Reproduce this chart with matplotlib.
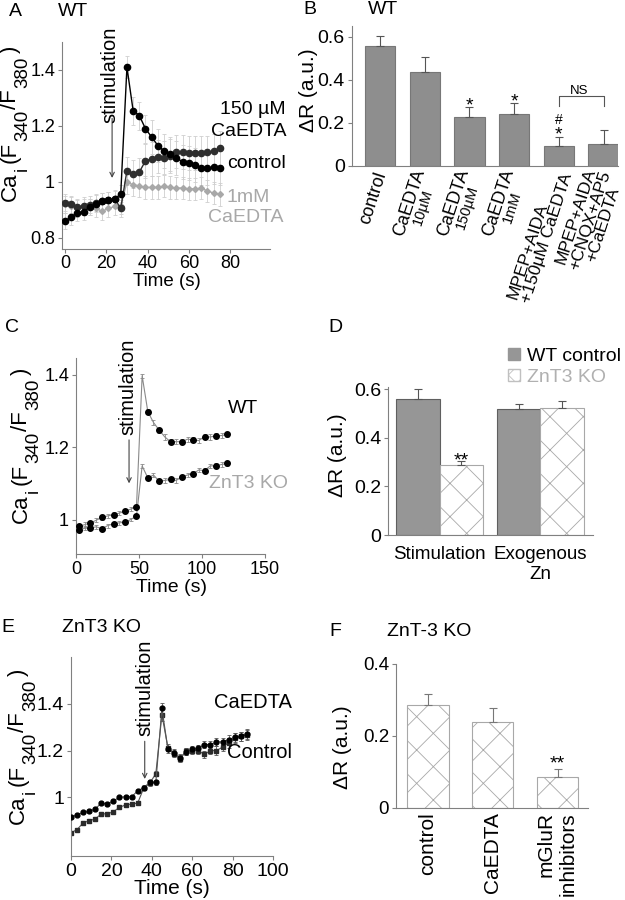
import matplotlib
matplotlib.use('Agg')
import matplotlib.pyplot as plt
import numpy as np
from matplotlib.patches import Patch
from matplotlib.ticker import FuncFormatter

plt.rcParams['font.family'] = ['Liberation Sans', 'DejaVu Sans']
plt.rcParams['hatch.linewidth'] = 0.6

# ---------------- data ----------------
# Panel A (WT, time courses)
tA = [0, 3, 6, 9, 12, 15, 18, 21, 24, 27, 30, 33, 36, 39, 42, 45, 48, 51, 54, 57, 60, 63, 66, 69, 72, 75]
A_control = [0.86, 0.875, 0.89, 0.893, 0.91, 0.922, 0.93, 0.935, 0.937, 0.958, 1.41, 1.255, 1.237, 1.19,
             1.16, 1.13, 1.11, 1.10, 1.085, 1.072, 1.068, 1.06, 1.048, 1.05, 1.052, 1.05]
A_150uM = [0.925, 0.92, 0.91, 0.915, 0.918, 0.925, 0.93, 0.935, 0.94, 0.905, 1.04, 1.028, 1.035, 1.075,
           1.082, 1.09, 1.087, 1.092, 1.108, 1.106, 1.104, 1.103, 1.104, 1.105, 1.11, 1.122]
A_1mM = [0.92, 0.915, 0.905, 0.91, 0.91, 0.905, 0.895, 0.905, 0.912, 0.915, 0.998, 0.99, 0.985, 0.98,
         0.98, 0.98, 0.985, 0.98, 0.978, 0.978, 0.975, 0.975, 0.977, 0.968, 0.96, 0.955]
A_control_err = [0.03, 0.03, 0.03, 0.03, 0.03, 0.03, 0.03, 0.03, 0.03, 0.03, 0.04, 0.05, 0.05, 0.05,
                 0.06, 0.06, 0.06, 0.06, 0.06, 0.06, 0.06, 0.06, 0.06, 0.06, 0.06, 0.06]
A_150uM_err = [0.03, 0.03, 0.03, 0.03, 0.03, 0.03, 0.03, 0.03, 0.03, 0.03, 0.05, 0.05, 0.05, 0.06,
               0.06, 0.06, 0.06, 0.06, 0.06, 0.06, 0.06, 0.06, 0.06, 0.06, 0.06, 0.06]
A_1mM_err = [0.03, 0.03, 0.03, 0.03, 0.03, 0.03, 0.03, 0.03, 0.03, 0.03, 0.04, 0.04, 0.04, 0.04,
             0.04, 0.04, 0.04, 0.04, 0.04, 0.04, 0.04, 0.04, 0.04, 0.04, 0.04, 0.04]

# Panel B (WT, bar chart)
B_labels = [["control"], ["CaEDTA", "10µM"], ["CaEDTA", "150µM"], ["CaEDTA", "1mM"],
            ["MPEP+AIDA", "+150µM CaEDTA"], ["MPEP+AIDA", "+CNQX+AP5", "+CaEDTA"]]
B_values = [0.557, 0.434, 0.228, 0.240, 0.093, 0.100]
B_errors = [0.046, 0.073, 0.044, 0.050, 0.042, 0.066]

# Panel C (WT vs ZnT3 KO time courses)
tC = [2.5, 7, 11.5, 16, 20.5, 25, 30, 34.5, 39, 43.5, 48, 52.5, 57, 61.5, 66, 70.5, 75, 79.5, 84,
      88.5, 93, 97.5, 102, 106.5, 111, 115.5, 120]
C_WT = [0.982, 0.986, 0.991, 0.998, 1.006, 1.010, 1.014, 1.018, 1.023, 1.029, 1.035, 1.397, 1.298, 1.268,
        1.247, 1.228, 1.215, 1.215, 1.215, 1.222, 1.220, 1.218, 1.229, 1.228, 1.231, 1.232, 1.235]
C_KO = [0.972, 0.976, 0.977, 0.980, 0.975, 0.983, 0.989, 0.991, 0.993, 1.000, 1.010, 1.148, 1.115, 1.123,
        1.106, 1.108, 1.111, 1.108, 1.118, 1.123, 1.127, 1.137, 1.135, 1.148, 1.149, 1.152, 1.155]
C_WT_err = [0.006, 0.006, 0.006, 0.006, 0.006, 0.006, 0.006, 0.006, 0.006, 0.006, 0.006, 0.006, 0.007, 0.007,
            0.007, 0.007, 0.007, 0.007, 0.007, 0.007, 0.007, 0.007, 0.007, 0.007, 0.007, 0.007, 0.007]
C_KO_err = [0.005, 0.005, 0.005, 0.005, 0.005, 0.005, 0.005, 0.005, 0.005, 0.005, 0.005, 0.006, 0.006, 0.006,
            0.006, 0.006, 0.006, 0.006, 0.006, 0.006, 0.006, 0.006, 0.006, 0.006, 0.006, 0.006, 0.006]

# Panel D (grouped bars)
D_groups = ["Stimulation", "Exogenous\nZn"]
D_series = ["WT control", "ZnT3 KO"]
D_WT = [0.561, 0.520]
D_KO = [0.290, 0.524]
D_WT_err = [0.042, 0.021]
D_KO_err = [0.014, 0.027]

# Panel E (ZnT3 KO time courses)
tE = [0, 3, 6, 9, 12, 15, 18, 21, 24, 27, 30, 33, 36, 39, 42, 45, 48, 51, 54, 57, 60, 63, 66, 69, 72, 75,
      78, 81, 84, 87]
E_CaEDTA = [0.915, 0.927, 0.936, 0.941, 0.951, 0.976, 0.972, 0.986, 1.000, 1.003, 1.003, 1.028, 1.042, 1.064,
            1.064, 1.381, 1.205, 1.191, 1.170, 1.195, 1.205, 1.210, 1.226, 1.226, 1.237, 1.237, 1.247, 1.257,
            1.261, 1.271]
E_Control = [0.849, 0.863, 0.891, 0.901, 0.908, 0.930, 0.930, 0.939, 0.958, 0.968, 0.972, 0.976, 1.040, 1.061,
             1.102, 1.353, 1.212, 1.186, 1.165, 1.198, 1.200, 1.200, 1.184, 1.200, 1.200, 1.215, 1.233, 1.254,
             1.261, 1.268]
E_CaEDTA_err = [0.008, 0.008, 0.008, 0.008, 0.008, 0.008, 0.008, 0.008, 0.008, 0.008, 0.008, 0.010, 0.010, 0.012,
                0.012, 0.022, 0.015, 0.015, 0.015, 0.015, 0.015, 0.015, 0.015, 0.015, 0.018, 0.018, 0.020, 0.020,
                0.020, 0.022]
E_Control_err = [0.008, 0.008, 0.008, 0.008, 0.008, 0.008, 0.008, 0.008, 0.008, 0.008, 0.008, 0.010, 0.010, 0.012,
                 0.012, 0.025, 0.015, 0.015, 0.015, 0.015, 0.015, 0.015, 0.015, 0.015, 0.018, 0.018, 0.020, 0.020,
                 0.020, 0.022]

# Panel F (ZnT-3 KO bars)
F_labels = ["control", "CaEDTA", "mGluR\ninhibitors"]
F_values = [0.286, 0.240, 0.086]
F_errors = [0.030, 0.037, 0.022]

# ---------------- figure helpers ----------------
W, H = 625, 900
fig = plt.figure(figsize=(6.25, 9), dpi=100)
renderer = fig.canvas.get_renderer()


def rect(l, t, r, b):
    return [l / W, 1 - b / H, (r - l) / W, (b - t) / H]


def ftext(px, py, s, **kw):
    return fig.text(px / W, 1 - py / H, s, **kw)


def tw(s, size):
    t = fig.text(0, 0, s, fontsize=size)
    w = t.get_window_extent(renderer).width
    t.remove()
    return w


SPINE = '#808080'


def style_axes(ax, fs):
    for s in ['top', 'right']:
        ax.spines[s].set_visible(False)
    for s in ['left', 'bottom']:
        ax.spines[s].set_color(SPINE)
        ax.spines[s].set_linewidth(0.8)
    ax.tick_params(colors=SPINE, labelcolor='black', labelsize=fs, length=3, width=0.8,
                   direction='out', pad=2)
    ax.yaxis.set_major_formatter(FuncFormatter(lambda v, p: f'{v:g}'))
    ax.xaxis.set_major_formatter(FuncFormatter(lambda v, p: f'{v:g}'))


def ca_label(x_base, y_center, main=16, sub=13.5, shift=11):
    parts = [('Ca', False), ('i', True), ('(F', False), ('340', True), ('/F', False),
             ('380', True), (')', False)]
    gaps = [1, 4, 1, 1, 1, 4, 0]
    widths = [tw(s, sub if is_sub else main) for s, is_sub in parts]
    total = sum(widths) + sum(gaps)
    y = y_center + total / 2
    for (s, is_sub), w, g in zip(parts, widths, gaps):
        ftext(x_base + (shift if is_sub else 0), y, s, rotation=90, rotation_mode='anchor',
              ha='left', va='baseline', fontsize=sub if is_sub else main)
        y -= w + g


def stim(px, pyc):
    ftext(px, pyc, 'stimulation', rotation=90, ha='center', va='center', fontsize=14.5)


def arrow(ax, x, y0, y1):
    ax.annotate('', xy=(x, y1), xytext=(x, y0),
                arrowprops=dict(arrowstyle='->', color='#444444', lw=0.8, shrinkA=0, shrinkB=0,
                                mutation_scale=8))


def star(ax, x, y, s, size=14, lift=11):
    ax.annotate(s, xy=(x, y), xytext=(0, -lift), textcoords='offset pixels', ha='center',
                va='baseline', fontsize=size)


ERRG = '#cfcfcf'

# ---------------- Panel A ----------------
axA = fig.add_axes(rect(62, 42, 270, 249))
style_axes(axA, 13)
axA.tick_params(axis='x', pad=1)
axA.set_xlim(-1.5, 99.4)
axA.set_ylim(0.76, 1.5)
for y, e in [(A_1mM, A_1mM_err), (A_150uM, A_150uM_err), (A_control, A_control_err)]:
    axA.errorbar(tA, y, yerr=e, fmt='none', ecolor=ERRG, elinewidth=0.6, capsize=1.5, capthick=0.6,
                 zorder=1)
axA.plot(tA, A_1mM, color='#a8a8a8', lw=1.0, marker='D', ms=3, zorder=3)
axA.plot(tA, A_150uM, color='#2e2e2e', lw=1.0, marker='o', ms=4.5, zorder=4)
axA.plot(tA, A_control, color='black', lw=1.0, marker='o', ms=4.5, zorder=5)
axA.set_xticks([0, 20, 40, 60, 80])
axA.set_yticks([0.8, 1, 1.2, 1.4])
arrow(axA, 22.8, 1.227, 1.014)
stim(110, 75)
ftext(253, 110, '150 µM', ha='center', va='center', fontsize=14)
ftext(249, 131, 'CaEDTA', ha='center', va='center', fontsize=14)
ftext(256, 163, 'control', ha='center', va='center', fontsize=14)
ftext(248, 197, '1mM', ha='center', va='center', fontsize=14, color='#a8a8a8')
ftext(246, 218, 'CaEDTA', ha='center', va='center', fontsize=14, color='#a8a8a8')
ftext(167, 282, 'Time (s)', ha='center', va='center', fontsize=13.5)
ca_label(16, 123)
ftext(15, 12, 'A', ha='center', va='center', fontsize=14)
ftext(73, 12, 'WT', ha='center', va='center', fontsize=14)

# ---------------- Panel B ----------------
axB = fig.add_axes(rect(351.7, 26, 618, 165.7))
style_axes(axB, 14)
xB = np.arange(len(B_values))
axB.bar(xB, B_values, width=0.68, color='#8e8e8e', edgecolor='#777777', linewidth=0.8, zorder=2)
axB.errorbar(xB, B_values, yerr=[np.zeros(len(B_errors)), B_errors], fmt='none', ecolor='#555555',
             elinewidth=0.8, capsize=3, capthick=0.8, zorder=3)
axB.set_xlim(-0.633, 5.324)
axB.set_ylim(0, 0.65)
axB.set_yticks([0, 0.2, 0.4, 0.6])
axB.set_xticks([])
theta = np.deg2rad(72)
dvec = np.array([np.cos(theta), np.sin(theta)])
nvec = np.array([np.sin(theta), -np.cos(theta)])
for i, lines in enumerate(B_labels):
    concentration = lines[0] == 'CaEDTA'
    sizes = [(10.5 if k > 0 else 13) if concentration else (13 if len(lines) == 1 else 12.5)
             for k in range(len(lines))]
    align_right = (len(lines) == 2 and not concentration)
    ws = [tw(s, sz) for s, sz in zip(lines, sizes)]
    wmax = max(ws)
    n = len(lines)
    base = np.array([2.0, -6.0])
    for k, (s, sz, w) in enumerate(zip(lines, sizes, ws)):
        along = (wmax - w / 2) if align_right else wmax / 2
        c = base - along * dvec + (k - (n - 1) / 2) * 14 * nvec
        axB.annotate(s, xy=(i, 0), xycoords=('data', 'axes fraction'), xytext=(c[0], c[1]),
                     textcoords='offset pixels', rotation=72, rotation_mode='anchor', ha='center',
                     va='center', fontsize=sz, annotation_clip=False)
star(axB, 2, 0.306, '*')
star(axB, 3, 0.329, '*')
star(axB, 4, 0.175, '*')
star(axB, 4, 0.217, '#', size=10, lift=5)
axB.plot([4, 4, 5, 5], [0.278, 0.326, 0.326, 0.278], color='#555555', lw=0.8)
star(axB, 4.45, 0.357, 'NS', size=9.5, lift=5)
ftext(309, 90, 'ΔR (a.u.)', rotation=90, ha='center', va='center', fontsize=15)
ftext(310, 9, 'B', ha='center', va='center', fontsize=14)
ftext(383, 9, 'WT', ha='center', va='center', fontsize=14)

# ---------------- Panel C ----------------
axC = fig.add_axes(rect(76, 358, 265, 554))
style_axes(axC, 13)
axC.set_xlim(0, 150)
axC.set_ylim(0.905, 1.446)
for y, e in [(C_WT, C_WT_err), (C_KO, C_KO_err)]:
    axC.errorbar(tC, y, yerr=e, fmt='none', ecolor='#8a8a8a', elinewidth=0.6, capsize=1.5, capthick=0.6,
                 zorder=1)
    axC.plot(tC, y, color='#8a8a8a', lw=0.8, zorder=2)
    axC.plot(tC[::2], y[::2], 'o', color='black', ms=4, zorder=3)
axC.set_xticks([0, 50, 100, 150])
axC.set_yticks([1, 1.2, 1.4])
arrow(axC, 42.1, 1.22, 1.10)
stim(128, 387)
ftext(243, 408, 'WT', ha='center', va='center', fontsize=14)
ftext(249, 484, 'ZnT3 KO', ha='center', va='center', fontsize=14, color='#a8a8a8')
ftext(172, 588, 'Time (s)', ha='center', va='center', fontsize=14)
ca_label(27, 445)
ftext(12, 328, 'C', ha='center', va='center', fontsize=14)

# ---------------- Panel D ----------------
axD = fig.add_axes(rect(388, 387, 593, 535))
style_axes(axD, 14)
xD = np.arange(len(D_groups))
bw = 0.435
axD.bar(xD - bw / 2, D_WT, width=bw, color='#969696', edgecolor='#5f5f5f', linewidth=0.8, zorder=2)
axD.bar(xD + bw / 2, D_KO, width=bw, color='white', edgecolor='#a8a8a8', hatch='x', linewidth=0.8,
        zorder=2)
axD.errorbar(xD - bw / 2, D_WT, yerr=[np.zeros(2), D_WT_err], fmt='none', ecolor='#555555', elinewidth=0.8,
             capsize=3, capthick=0.8, zorder=3)
axD.errorbar(xD + bw / 2, D_KO, yerr=[np.zeros(2), D_KO_err], fmt='none', ecolor='#555555', elinewidth=0.8,
             capsize=3, capthick=0.8, zorder=3)
axD.set_xlim(-0.51, 1.52)
axD.set_ylim(0, 0.61)
axD.set_yticks([0, 0.2, 0.4, 0.6])
axD.set_xticks(xD)
axD.set_xticklabels(D_groups, fontsize=13.5)
axD.tick_params(axis='x', length=0, pad=8)
star(axD, bw / 2, 0.331, '**')
handles = [Patch(facecolor='#969696', edgecolor='#969696'),
           Patch(facecolor='white', edgecolor='#c0c0c0', hatch='xx')]
axD.legend(handles, D_series, labelcolor=['black', '#b0b0b0'], frameon=False, fontsize=14,
           handlelength=0.6, handleheight=0.6, handletextpad=0.4, labelspacing=0.2,
           loc='center left', bbox_to_anchor=(508 / W, 1 - 367 / H), bbox_transform=fig.transFigure,
           borderaxespad=0, borderpad=0)
ftext(338, 455, 'ΔR (a.u.)', rotation=90, ha='center', va='center', fontsize=15)
ftext(335, 328, 'D', ha='center', va='center', fontsize=14)

# ---------------- Panel E ----------------
axE = fig.add_axes(rect(71, 657, 273, 856))
style_axes(axE, 14)
axE.set_xlim(0, 100)
axE.set_ylim(0.75, 1.6)
for y, e in [(E_Control, E_Control_err), (E_CaEDTA, E_CaEDTA_err)]:
    axE.errorbar(tE, y, yerr=e, fmt='none', ecolor='#555555', elinewidth=0.6, capsize=1.5, capthick=0.6,
                 zorder=1)
axE.plot(tE, E_Control, color='#555555', lw=0.8, marker='s', ms=3.5, mfc='#2a2a2a', mec='#2a2a2a', zorder=2)
axE.plot(tE, E_CaEDTA, color='#555555', lw=0.8, marker='o', ms=3.5, mfc='black', mec='black', zorder=3)
axE.set_xticks([0, 20, 40, 60, 80, 100])
axE.set_yticks([1, 1.2, 1.4])
arrow(axE, 36.5, 1.24, 1.079)
stim(145, 688)
ftext(253, 702, 'CaEDTA', ha='center', va='center', fontsize=14.5)
ftext(260, 753, 'Control', ha='center', va='center', fontsize=14.5)
ftext(172, 888, 'Time (s)', ha='center', va='center', fontsize=15)
ca_label(24, 746)
ftext(8, 628, 'E', ha='center', va='center', fontsize=14)
ftext(101, 628, 'ZnT3 KO', ha='center', va='center', fontsize=14)

# ---------------- Panel F ----------------
axF = fig.add_axes(rect(396, 664, 588, 808))
style_axes(axF, 13.5)
xF = np.arange(len(F_values))
axF.bar(xF, F_values, width=0.64, color='white', edgecolor='#a8a8a8', hatch='x', linewidth=0.8, zorder=2)
axF.errorbar(xF, F_values, yerr=[np.zeros(3), F_errors], fmt='none', ecolor='#777777', elinewidth=0.8,
             capsize=3, capthick=0.8, zorder=3)
axF.set_xlim(-0.49, 2.47)
axF.set_ylim(0, 0.4)
axF.set_yticks([0, 0.2, 0.4])
axF.set_xticks(xF)
axF.set_xticklabels(F_labels, rotation=90, fontsize=15, multialignment='right')
axF.tick_params(axis='x', length=0, pad=3)
star(axF, 2, 0.139, '**')
ftext(343, 747, 'ΔR (a.u.)', rotation=90, ha='center', va='center', fontsize=15)
ftext(335, 632, 'F', ha='center', va='center', fontsize=14)
ftext(429, 632, 'ZnT-3 KO', ha='center', va='center', fontsize=14)

fig.savefig('out.png', dpi=100)
